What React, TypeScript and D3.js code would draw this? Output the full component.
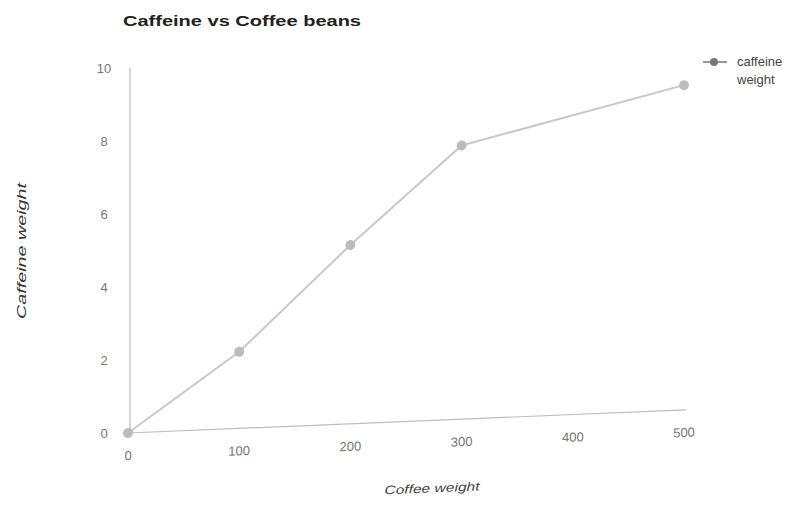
import React from 'react';
import * as d3 from 'd3';

// Coffee beans weight vs caffeine extracted
const coffeeWeight = [0, 100, 200, 300, 500];
const caffeineWeight = [0, 2.1, 4.9, 7.5, 8.9];
const xTicks = [0, 100, 200, 300, 400, 500];
const yTicks = [0, 2, 4, 6, 8, 10];
const legendLines = ['caffeine', 'weight'];
const chartTitle = 'Caffeine vs Coffee beans';
const xTitle = 'Coffee weight';
const yTitle = 'Caffeine weight';

const W = 811;
const H = 507;
const x0 = 128;
const y0 = 433;
const tilt = -2.37; // the plot plane leans slightly upward to the right

const x = d3.scaleLinear().domain([0, 500]).range([x0, 684]);
const y = d3.scaleLinear().domain([0, 10]).range([y0, 68]);

const points = coffeeWeight.map((c, i) => [c, caffeineWeight[i]] as [number, number]);
const line = d3
  .line<[number, number]>()
  .x((d) => x(d[0]))
  .y((d) => y(d[1]));

const font = '"Liberation Sans", Arial, sans-serif';

export default function App() {
  const plotTransform = `translate(${x0},${y0}) skewY(${tilt}) translate(${-x0},${-y0})`;
  return (
    <svg
      width={W}
      height={H}
      viewBox={`0 0 ${W} ${H}`}
      style={{ position: 'fixed', left: 0, top: 0, background: '#fff' }}
      fontFamily={font}
    >
      <rect width={W} height={H} fill="#fff" />
      <text x={123} y={26} fontSize={14} fontWeight="bold" fill="#222" textLength={238} lengthAdjust="spacingAndGlyphs">
        {chartTitle}
      </text>

      {/* y axis */}
      <line x1={130} x2={130} y1={y(0)} y2={y(10)} stroke="#bdbdbd" strokeWidth={1.2} />
      {yTicks.map((t) => (
        <text key={t} x={104} y={y(t) + 5} fontSize={13} fill="#777" textAnchor="middle">
          {t}
        </text>
      ))}
      <text
        transform={`translate(26,${251}) rotate(-90)`}
        fontSize={13}
        fontStyle="italic"
        fill="#333"
        textAnchor="middle"
        textLength={136}
        lengthAdjust="spacingAndGlyphs"
      >
        {yTitle}
      </text>

      <g transform={plotTransform}>
        {/* x axis */}
        <line x1={x(0)} x2={x(500) + 2} y1={y(0)} y2={y(0)} stroke="#bdbdbd" strokeWidth={1.2} />
        {xTicks.map((t) => (
          <text key={t} x={x(t)} y={y(0) + 27} fontSize={13} fill="#777" textAnchor="middle">
            {t}
          </text>
        ))}
        <text
          x={432}
          y={y(0) + 72}
          fontSize={12}
          fontStyle="italic"
          fill="#444"
          textAnchor="middle"
          textLength={95}
          lengthAdjust="spacingAndGlyphs"
        >
          {xTitle}
        </text>

        <path d={line(points) ?? ''} fill="none" stroke="#c8c8c8" strokeWidth={2} />
        {points.map((d, i) => (
          <circle key={i} cx={x(d[0])} cy={y(d[1])} r={5} fill="#bcbcbc" />
        ))}
      </g>

      {/* legend */}
      <line x1={703} x2={727} y1={62} y2={62} stroke="#999" strokeWidth={2} />
      <circle cx={714} cy={62} r={4} fill="#777" />
      {legendLines.map((s, i) => (
        <text key={s} x={737} y={66 + i * 18} fontSize={13} fill="#444">
          {s}
        </text>
      ))}
    </svg>
  );
}
